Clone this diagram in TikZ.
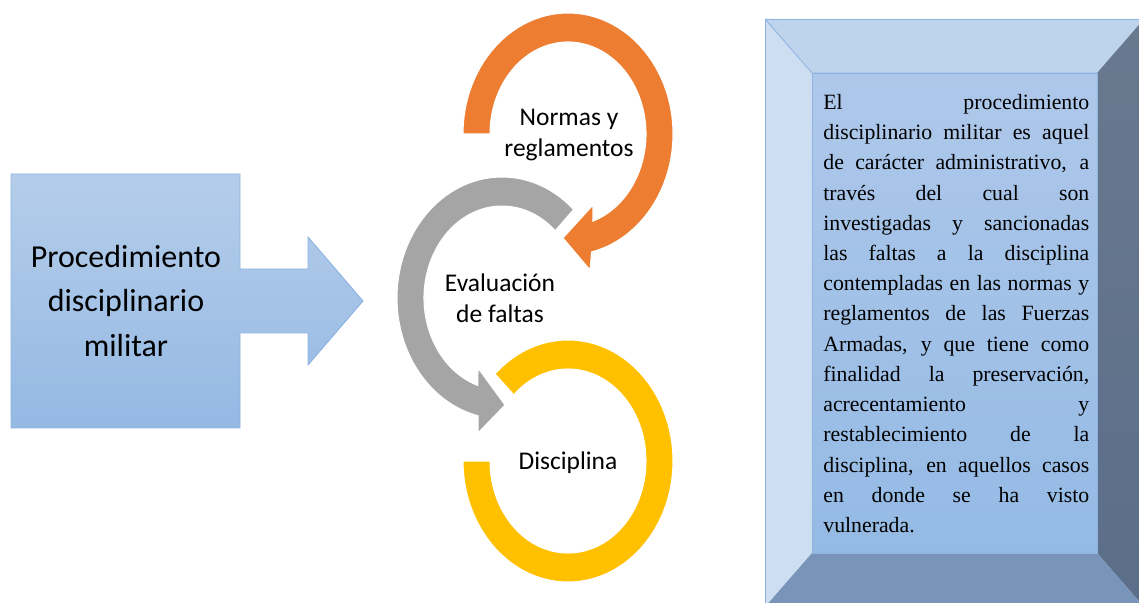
\documentclass[tikz,border=0pt]{standalone}
\usepackage{fontspec}
\setmainfont{Liberation Serif}
\newfontfamily\calibri{Carlito}
\definecolor{ringorange}{RGB}{237,125,49}
\definecolor{ringgray}{RGB}{165,165,165}
\definecolor{ringyellow}{RGB}{255,192,0}
\definecolor{callouttop}{RGB}{181,205,234}
\definecolor{calloutbot}{RGB}{148,185,227}
\definecolor{calloutline}{RGB}{141,179,226}
\definecolor{facetop}{RGB}{190,211,236}
\definecolor{faceleft}{RGB}{205,222,242}
\definecolor{facerighttop}{RGB}{105,121,142}
\definecolor{facerightbot}{RGB}{91,110,137}
\definecolor{facebottom}{RGB}{120,148,185}
\definecolor{innertop}{RGB}{174,200,234}
\definecolor{innerbot}{RGB}{148,186,228}
\definecolor{bevelline}{RGB}{143,180,226}
\begin{document}
\begin{tikzpicture}[x=0.02cm,y=0.02cm,
	proctext/.style={align=center,font=\calibri\fontsize{18.2}{25.5}\selectfont},
	ringtext/.style={align=center,font=\calibri\fontsize{14.5}{17.6}\selectfont},
	deftext/.style={anchor=north west,inner sep=0pt,text width=5.32cm,align=justify,
		font=\fontsize{12.4}{17.2}\selectfont},
	ring/.style={draw=white,line width=0.6pt}]
			\useasboundingbox (0,0) rectangle (1139,602);

			% Callout with arrow
			\shade[top color=callouttop,bottom color=calloutbot,draw=calloutline,line width=0.5pt]
				(11,174) -- (240,174) -- (240,269) -- (308,269) -- (308,237) -- (363,301)
				-- (308,365) -- (308,333) -- (240,333) -- (240,428) -- (11,428) -- cycle;

			% Ring arrows
			\begin{scope}[shift={(568,468)}]
				\fill[ring,fill=ringorange] (180:78 and 92) -- (180:105 and 121)
					arc[start angle=180,end angle=-77,x radius=105,y radius=121]
					-- (22,-136) -- (-5,-104) -- (25,-71) -- (-71.3:78 and 92)
					arc[start angle=-71.3,end angle=180,x radius=78,y radius=92] -- cycle;
			\end{scope}
			\begin{scope}[shift={(502,304)}]
				\fill[ring,fill=ringgray] (47:78 and 92) -- (47:105 and 121)
					arc[start angle=47,end angle=256.8,x radius=105,y radius=121]
					-- (-24,-135) -- (3,-107) -- (-24,-70) -- (252:78 and 92)
					arc[start angle=252,end angle=47,x radius=78,y radius=92] -- cycle;
			\end{scope}
			\begin{scope}[shift={(568,141)}]
				\fill[ring,fill=ringyellow] (134:78 and 92) -- (134:105 and 121)
					arc[start angle=134,end angle=-180,x radius=105,y radius=121]
					-- (-180:78 and 92)
					arc[start angle=-180,end angle=134,x radius=78,y radius=92] -- cycle;
			\end{scope}

			% Bevel box
			\begin{scope}
				\clip (0,0) rectangle (1139,602);
				\fill[facetop] (765,583) -- (1144,583) -- (1097,529) -- (812,529) -- cycle;
				\fill[faceleft] (765,583) -- (812,529) -- (812,49) -- (765,-5) -- cycle;
				\shade[top color=facerighttop,bottom color=facerightbot]
					(1144,583) -- (1097,529) -- (1097,49) -- (1144,-5) -- cycle;
				\fill[facebottom] (765,-5) -- (812,49) -- (1097,49) -- (1144,-5) -- cycle;
				\shade[top color=innertop,bottom color=innerbot] (812,49) rectangle (1097,529);
				\draw[bevelline,line width=0.5pt] (765,-5) rectangle (1144,583);
				\draw[bevelline,line width=0.5pt] (765,583) -- (812,529);
				\draw[bevelline,line width=0.5pt] (812,49) rectangle (1097,529);
			\end{scope}

			% Nodes
			\node[proctext] (proc) at (126,301) {Procedimiento\\disciplinario\\militar};
			\node[ringtext] (normas) at (569,467) {Normas y\\reglamentos};
			\node[ringtext] (evalua) at (500,304) {Evaluación\\de faltas};
			\node[ringtext] (discip) at (568,139) {Disciplina};
			\node[deftext] (def) at (823,508) {\tolerance=10000\hyphenpenalty=10000\hbadness=10000\relax
				El procedimiento\linebreak
				disciplinario militar es aquel\linebreak
				de carácter administrativo, a\linebreak
				través del cual son\linebreak
				investigadas y sancionadas\linebreak
				las faltas a la disciplina\linebreak
				contempladas en las normas y\linebreak
				reglamentos de las Fuerzas\linebreak
				Armadas, y que tiene como\linebreak
				finalidad la preservación,\linebreak
				acrecentamiento y\linebreak
				restablecimiento de la\linebreak
				disciplina, en aquellos casos\linebreak
				en donde se ha visto\linebreak
				vulnerada.};

		\end{tikzpicture}
\end{document}
